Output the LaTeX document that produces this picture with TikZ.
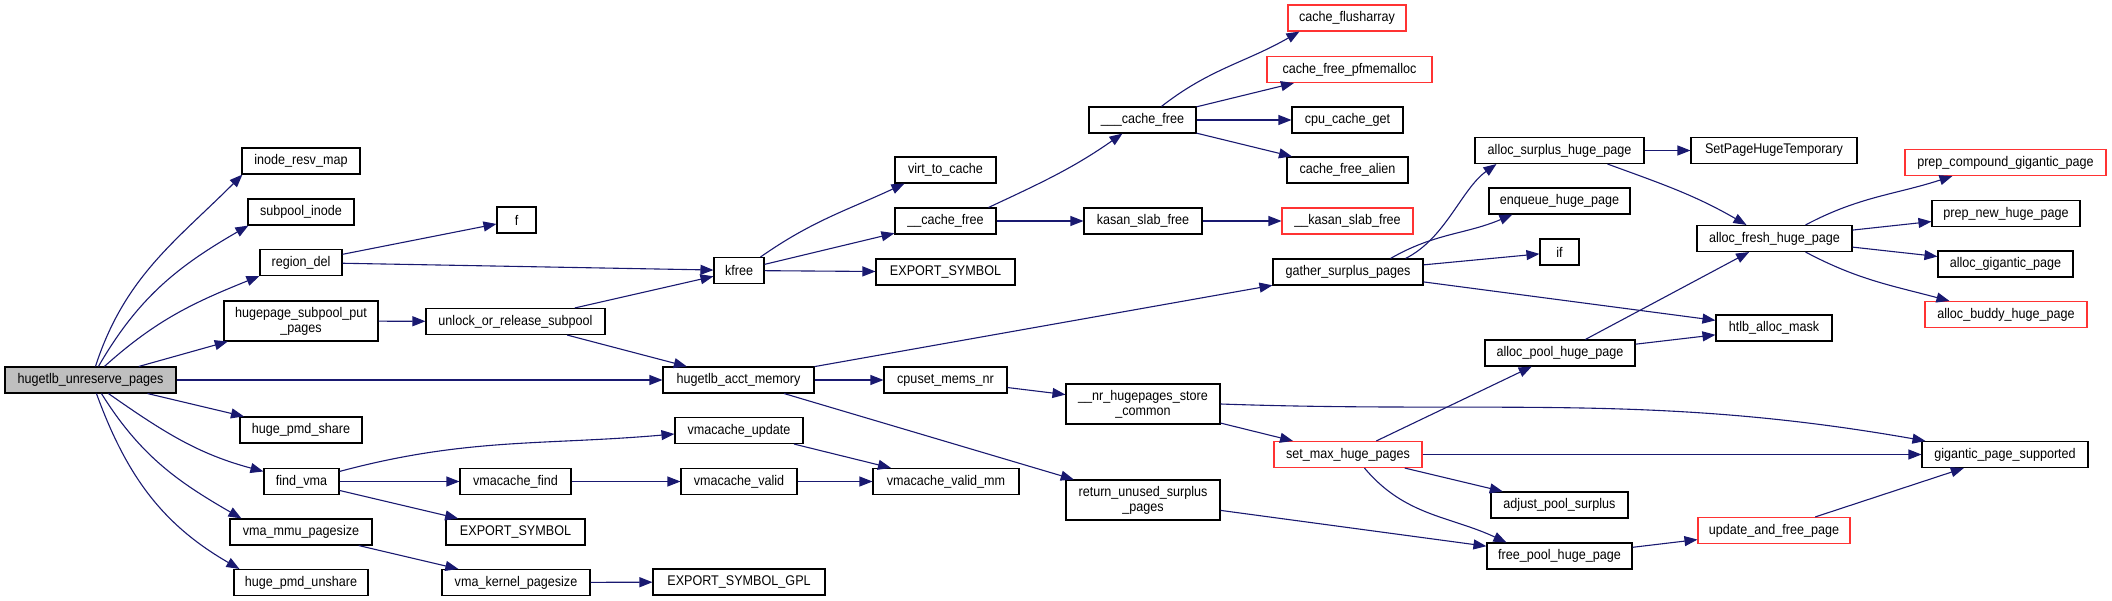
\documentclass[tikz,border=0pt]{standalone}
\usepackage{fontspec}
\setmainfont{Liberation Sans}[FakeStretch=0.9]
\usetikzlibrary{arrows.meta}
\definecolor{edgeblue}{HTML}{191970}
\definecolor{truncred}{HTML}{FF3333}
\definecolor{rootgrey}{HTML}{BFBFBF}
\begin{document}
\begin{tikzpicture}[x=1pt,y=1pt,
  box/.style={draw=black,line width=1.1pt,fill=white,inner sep=0pt,minimum height=26pt,font=\fontsize{14}{15}\selectfont,align=center},
  tbox/.style={box,minimum height=40pt},
  redbox/.style={box,draw=truncred},
  conn/.style={draw=edgeblue,line width=1.1pt,-{Triangle[length=13pt,width=10pt]}}]
\useasboundingbox (0,0) rectangle (2112,-601);
% nodes
\node[box,fill=rootgrey,minimum width=171pt] (root) at (90.5,-380) {hugetlb\_unreserve\_pages};
\node[box,minimum width=118pt] (inode) at (301,-161) {inode\_resv\_map};
\node[box,minimum width=106pt] (subpool) at (301,-212) {subpool\_inode};
\node[box,minimum width=82pt] (regiondel) at (301,-262.5) {region\_del};
\node[tbox,minimum width=154pt] (hsput) at (301,-321) {hugepage\_subpool\_put\\ \_pages};
\node[box,minimum width=122pt] (pmdshare) at (301,-430) {huge\_pmd\_share};
\node[box,minimum width=75pt] (findvma) at (301.5,-481.5) {find\_vma};
\node[box,minimum width=142pt] (vmammu) at (301,-532) {vma\_mmu\_pagesize};
\node[box,minimum width=134pt] (pmdunshare) at (301,-582.5) {huge\_pmd\_unshare};
\node[box,minimum width=39pt] (f) at (516.5,-220) {f};
\node[box,minimum width=179pt] (unlock) at (515.5,-321.5) {unlock\_or\_release\_subpool};
\node[box,minimum width=111pt] (vfind) at (515.5,-481.5) {vmacache\_find};
\node[box,minimum width=139pt] (exportA) at (515.5,-532) {EXPORT\_SYMBOL};
\node[box,minimum width=148pt] (vkernel) at (516,-582.5) {vma\_kernel\_pagesize};
\node[box,minimum width=50pt] (kfree) at (739,-270.5) {kfree};
\node[box,minimum width=151pt] (acct) at (738.5,-380) {hugetlb\_acct\_memory};
\node[box,minimum width=128pt] (vupdate) at (739,-430.5) {vmacache\_update};
\node[box,minimum width=116pt] (vvalid) at (739,-481.5) {vmacache\_valid};
\node[box,minimum width=172pt] (exportgpl) at (739,-582) {EXPORT\_SYMBOL\_GPL};
\node[box,minimum width=101pt] (virt) at (945.5,-170) {virt\_to\_cache};
\node[box,minimum width=101pt] (cfree) at (945.5,-221) {\_\_cache\_free};
\node[box,minimum width=139pt] (exportB) at (945.5,-272) {EXPORT\_SYMBOL};
\node[box,minimum width=123pt] (cpuset) at (945.5,-380) {cpuset\_mems\_nr};
\node[box,minimum width=146pt] (vvalidmm) at (946,-481.5) {vmacache\_valid\_mm};
\node[box,minimum width=107pt] (ccfree) at (1142.5,-120) {\_\_\_cache\_free};
\node[box,minimum width=118pt] (kasan) at (1143,-221) {kasan\_slab\_free};
\node[tbox,minimum width=154pt] (nrhp) at (1143,-404) {\_\_nr\_hugepages\_store\\ \_common};
\node[tbox,minimum width=154pt] (retunused) at (1143,-500) {return\_unused\_surplus\\ \_pages};
\node[redbox,minimum width=118pt] (flush) at (1347,-18) {cache\_flusharray};
\node[redbox,minimum width=165pt] (pfmem) at (1349.5,-69.5) {cache\_free\_pfmemalloc};
\node[box,minimum width=111pt] (cpucache) at (1347.5,-120) {cpu\_cache\_get};
\node[box,minimum width=121pt] (alien) at (1347.5,-170) {cache\_free\_alien};
\node[redbox,minimum width=131pt] (kkasan) at (1347.5,-221) {\_\_kasan\_slab\_free};
\node[box,minimum width=150pt] (gather) at (1348,-272) {gather\_surplus\_pages};
\node[redbox,minimum width=148pt] (setmax) at (1348,-454.5) {set\_max\_huge\_pages};
\node[box,minimum width=169pt] (asurplus) at (1559.5,-150.5) {alloc\_surplus\_huge\_page};
\node[box,minimum width=141pt] (enqueue) at (1559.5,-201) {enqueue\_huge\_page};
\node[box,minimum width=39pt] (ifn) at (1559.5,-252) {if};
\node[box,minimum width=150pt] (apool) at (1560,-353) {alloc\_pool\_huge\_page};
\node[box,minimum width=137pt] (adjust) at (1559.5,-505) {adjust\_pool\_surplus};
\node[box,minimum width=145pt] (freepool) at (1559.5,-556) {free\_pool\_huge\_page};
\node[box,minimum width=166pt] (setpage) at (1774,-150.5) {SetPageHugeTemporary};
\node[box,minimum width=155pt] (afresh) at (1774.5,-238.5) {alloc\_fresh\_huge\_page};
\node[box,minimum width=116pt] (htlb) at (1774,-328) {htlb\_alloc\_mask};
\node[redbox,minimum width=152pt] (update) at (1774,-530.5) {update\_and\_free\_page};
\node[redbox,minimum width=201pt] (prepcomp) at (2005.5,-162.5) {prep\_compound\_gigantic\_page};
\node[box,minimum width=148pt] (prepnew) at (2006,-213.5) {prep\_new\_huge\_page};
\node[box,minimum width=135pt] (agig) at (2005.5,-264) {alloc\_gigantic\_page};
\node[redbox,minimum width=162pt] (abuddy) at (2006,-314.5) {alloc\_buddy\_huge\_page};
\node[box,minimum width=166pt] (gigsup) at (2005,-454.5) {gigantic\_page\_supported};
% curved connectors
\draw[conn] ([xshift=91pt]root.north west) to[out=72,in=225] ([xshift=1pt]inode.south west);
\draw[conn] ([xshift=94pt]root.north west) to[out=60,in=210] ([xshift=1pt]subpool.south west);
\draw[conn] ([xshift=100pt]root.north west) to[out=42,in=202] (regiondel.south west);
\draw[conn] ([xshift=104pt]root.south west) to[out=-35,in=165] ([yshift=-3.5pt]findvma.north west);
\draw[conn] ([xshift=97pt]root.south west) to[out=-58,in=150] ([xshift=12pt]vmammu.north west);
\draw[conn] ([xshift=92pt]root.south west) to[out=-70,in=150] ([xshift=6pt]pmdunshare.north west);
\draw[conn] ([yshift=-3.5pt]findvma.north east) to[out=15,in=185] ([yshift=-3.5pt]vupdate.west);
\draw[conn] ([xshift=-4pt]kfree.north east) to[out=35,in=205] ([xshift=10pt]virt.south west);
\draw[conn] ([xshift=-8pt]cfree.north east) to[out=25,in=215] ([xshift=34pt]ccfree.south west);
\draw[conn] ([xshift=73pt]ccfree.north west) to[out=38,in=210] ([xshift=12pt]flush.south west);
\draw[conn] ([xshift=-18pt]gather.north east) .. controls +(40,20) and +(-35,-25) .. ([xshift=22pt]asurplus.south west);
\draw[conn] ([xshift=-33pt]gather.north east) to[out=30,in=203] ([xshift=24pt]enqueue.south west);
\draw[conn] ([xshift=-37pt]asurplus.south east) to[out=-20,in=150] ([xshift=50pt]afresh.north west);
\draw[conn] ([xshift=-47pt]afresh.north east) to[out=28,in=198] ([xshift=48pt]prepcomp.south west);
\draw[conn] ([xshift=-47pt]afresh.south east) to[out=-28,in=165] ([xshift=25pt]abuddy.north west);
\draw[conn] ([xshift=91pt]setmax.south west) to[out=-50,in=155] ([xshift=20pt]freepool.north west);
\draw[conn] (nrhp.east) to[out=-2,in=170] ([xshift=4pt]gigsup.north west);
% straight connectors
\draw[conn] (root) -- (hsput);
\draw[conn] (root) -- (acct);
\draw[conn] (root) -- (pmdshare);
\draw[conn] (regiondel) -- (f);
\draw[conn] (regiondel) -- (kfree);
\draw[conn] (hsput) -- (unlock);
\draw[conn] (unlock) -- (kfree);
\draw[conn] (unlock) -- (acct);
\draw[conn] (findvma) -- (vfind);
\draw[conn] (findvma) -- (exportA);
\draw[conn] (vmammu) -- (vkernel);
\draw[conn] (vkernel) -- (exportgpl);
\draw[conn] (vfind) -- (vvalid);
\draw[conn] (vupdate) -- (vvalidmm);
\draw[conn] (vvalid) -- (vvalidmm);
\draw[conn] (kfree) -- (cfree);
\draw[conn] (kfree) -- (exportB);
\draw[conn] (cfree) -- (kasan);
\draw[conn] (ccfree) -- (pfmem);
\draw[conn] (ccfree) -- (cpucache);
\draw[conn] (ccfree) -- (alien);
\draw[conn] (kasan) -- (kkasan);
\draw[conn] (acct) -- (gather);
\draw[conn] (acct) -- (cpuset);
\draw[conn] (acct) -- (retunused);
\draw[conn] (cpuset) -- (nrhp);
\draw[conn] (nrhp) -- (setmax);
\draw[conn] (retunused) -- (freepool);
\draw[conn] (gather) -- (ifn);
\draw[conn] (gather) -- (htlb);
\draw[conn] (setmax) -- (apool);
\draw[conn] (setmax) -- (gigsup);
\draw[conn] (setmax) -- (adjust);
\draw[conn] (asurplus) -- (setpage);
\draw[conn] (apool) -- (afresh);
\draw[conn] (apool) -- (htlb);
\draw[conn] (afresh) -- (prepnew);
\draw[conn] (afresh) -- (agig);
\draw[conn] (freepool) -- (update);
\draw[conn] (update) -- (gigsup);
\end{tikzpicture}
\end{document}
